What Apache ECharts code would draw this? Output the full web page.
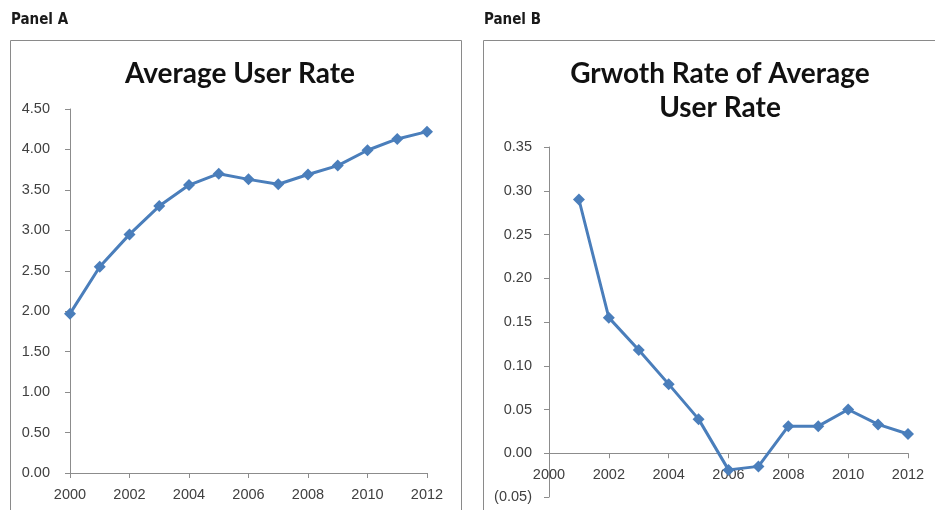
<!DOCTYPE html>
<html><head><meta charset="utf-8">
<script src="https://cdn.jsdelivr.net/npm/echarts@6/dist/echarts.min.js"></script>
<style>html,body{margin:0;padding:0;background:#fff}#c{width:935px;height:510px}</style>
</head><body><div id="c"></div>
<script>
const years = [2000,2001,2002,2003,2004,2005,2006,2007,2008,2009,2010,2011,2012];
const avgUserRate = [1.97,2.55,2.95,3.30,3.56,3.70,3.63,3.57,3.69,3.80,3.99,4.13,4.22];
const growthRate = [null,0.29,0.155,0.118,0.079,0.039,-0.019,-0.015,0.031,0.031,0.050,0.033,0.022];
const titleA = 'Average User Rate';
const titleB = 'Grwoth Rate of Average\nUser Rate';
const panelLabels = ['Panel A','Panel B'];

const lineColor = '#4a7ebb';
const axisColor = '#8c8c8c';
const labelColor = '#404040';
const tickFont = 'Liberation Sans, Arial, sans-serif';

const pairsA = years.map((y,i)=>[y,avgUserRate[i]]);
const pairsB = years.map((y,i)=>[y,growthRate[i]]).filter(p=>p[1]!==null);

// layout of the two plot areas
const gridB = {left:549,right:27,top:147,bottom:13};
const rangeB = {min:-0.05,max:0.35,interval:0.05};
const plotHB = 510 - gridB.top - gridB.bottom;
// place panel B's category axis on the zero line (as in the original)
const zeroOffsetB = -((0 - rangeB.min)/(rangeB.max - rangeB.min))*plotHB;

function xAx(gridIndex, margin, offset){
  return {type:'value',gridIndex,min:2000,max:2012,interval:2,position:'bottom',offset,
    axisLine:{show:true,onZero:false,lineStyle:{color:axisColor,width:1}},
    axisTick:{show:true,inside:false,length:5,lineStyle:{color:axisColor}},
    splitLine:{show:false},
    axisLabel:{color:labelColor,fontSize:14.5,fontFamily:tickFont,margin,formatter:v=>String(v)}};
}
function yAx(gridIndex,min,max,interval,margin){
  return {type:'value',gridIndex,min,max,interval,
    axisLine:{show:true,onZero:false,lineStyle:{color:axisColor,width:1}},
    axisTick:{show:true,inside:false,length:5,lineStyle:{color:axisColor}},
    splitLine:{show:false},
    axisLabel:{color:labelColor,fontSize:14.5,fontFamily:tickFont,margin,
      formatter:v=>{const r=Math.round(v*100)/100; return r<0?'('+Math.abs(r).toFixed(2)+')':r.toFixed(2);}}};
}
const chart = echarts.init(document.getElementById('c'),null,{renderer:'canvas'});
chart.setOption({
  animation:false,
  backgroundColor:'#fff',
  graphic:[
    {type:'rect',shape:{x:10.5,y:40.5,width:451,height:480},style:{fill:'none',stroke:'#8a8a8a',lineWidth:1},z:0},
    {type:'rect',shape:{x:483.5,y:40.5,width:460,height:480},style:{fill:'none',stroke:'#8a8a8a',lineWidth:1},z:0},
    {type:'text',left:11,top:13,style:{text:panelLabels[0],font:'bold 15px "Liberation Sans Narrow", "DejaVu Sans Condensed", sans-serif',fill:'#1a1a1a'}},
    {type:'text',left:484,top:13,style:{text:panelLabels[1],font:'bold 15px "Liberation Sans Narrow", "DejaVu Sans Condensed", sans-serif',fill:'#1a1a1a'}}
  ],
  title:[
    {text:titleA,left:235,top:55,textAlign:'center',textStyle:{fontFamily:'Lato, sans-serif',fontWeight:'bold',fontSize:28,color:'#111'}},
    {text:titleB,left:715,top:52,textAlign:'center',textStyle:{fontFamily:'Lato, sans-serif',fontWeight:'bold',fontSize:28,lineHeight:34,color:'#111'}}
  ],
  grid:[
    {left:70,right:508,top:109,bottom:37,containLabel:false,outerBoundsMode:'none'},
    Object.assign({containLabel:false,outerBoundsMode:'none'},gridB)
  ],
  xAxis:[xAx(0,14,0),xAx(1,14,zeroOffsetB)],
  yAxis:[yAx(0,0,4.5,0.5,20),yAx(1,rangeB.min,rangeB.max,rangeB.interval,17)],
  series:[
    {type:'line',xAxisIndex:0,yAxisIndex:0,data:pairsA,symbol:'diamond',symbolSize:12,
      lineStyle:{color:lineColor,width:3},itemStyle:{color:lineColor}},
    {type:'line',xAxisIndex:1,yAxisIndex:1,data:pairsB,symbol:'diamond',symbolSize:12,
      lineStyle:{color:lineColor,width:3},itemStyle:{color:lineColor}}
  ]
});
</script></body></html>
